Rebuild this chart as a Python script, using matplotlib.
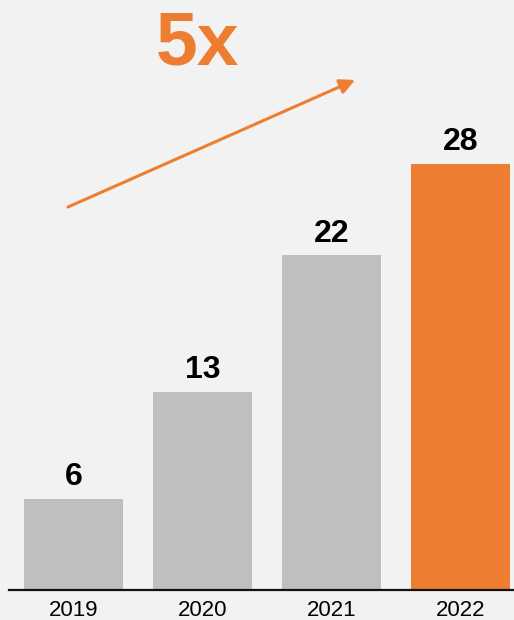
import matplotlib.pyplot as plt

# yearly totals, last year highlighted
years = ["2019", "2020", "2021", "2022"]
values = [6, 13, 22, 28]
colors = ["#bfbfbf", "#bfbfbf", "#bfbfbf", "#ed7d31"]

plt.rcParams['font.family'] = ['Liberation Sans', 'DejaVu Sans']

fig = plt.figure(figsize=(5.14, 6.2), dpi=100)
fig.patch.set_facecolor("#f2f2f2")

# axes area sits on the baseline, spanning almost the full width
ax = fig.add_axes([9 / 514, 30 / 620, 505 / 514, 590 / 620])
ax.set_facecolor("#f2f2f2")

x = range(len(years))
bars = ax.bar(x, values, width=0.767, color=colors)

# value labels above each bar
for b, v in zip(bars, values):
    ax.annotate(str(v), (b.get_x() + b.get_width() / 2, v),
                xytext=(0, 5), textcoords="offset points",
                ha="center", va="bottom", fontsize=23, fontweight="bold")

ax.set_xlim(-0.5, 3.415)
ax.set_ylim(0, 38.8)
ax.set_xticks(list(x))
ax.set_xticklabels(years, fontsize=16)
ax.tick_params(axis="x", length=0, pad=7)
ax.set_yticks([])
for side in ["top", "right", "left"]:
    ax.spines[side].set_visible(False)
ax.spines["bottom"].set_linewidth(1.6)
ax.spines["bottom"].set_color("#111111")

# growth arrow and multiplier
ax.annotate("", xy=(355, 540), xytext=(68, 413),
            xycoords="figure pixels", textcoords="figure pixels",
            arrowprops=dict(arrowstyle="-|>,head_length=0.9,head_width=0.45",
                            color="#ed7d31", lw=2.2, shrinkA=0, shrinkB=0))
fig.text(198 / 514, 575 / 620, "5x", color="#ed7d31", fontsize=54,
         fontweight="bold", ha="center", va="center")

fig.savefig("out.png", dpi=100, facecolor=fig.get_facecolor())
